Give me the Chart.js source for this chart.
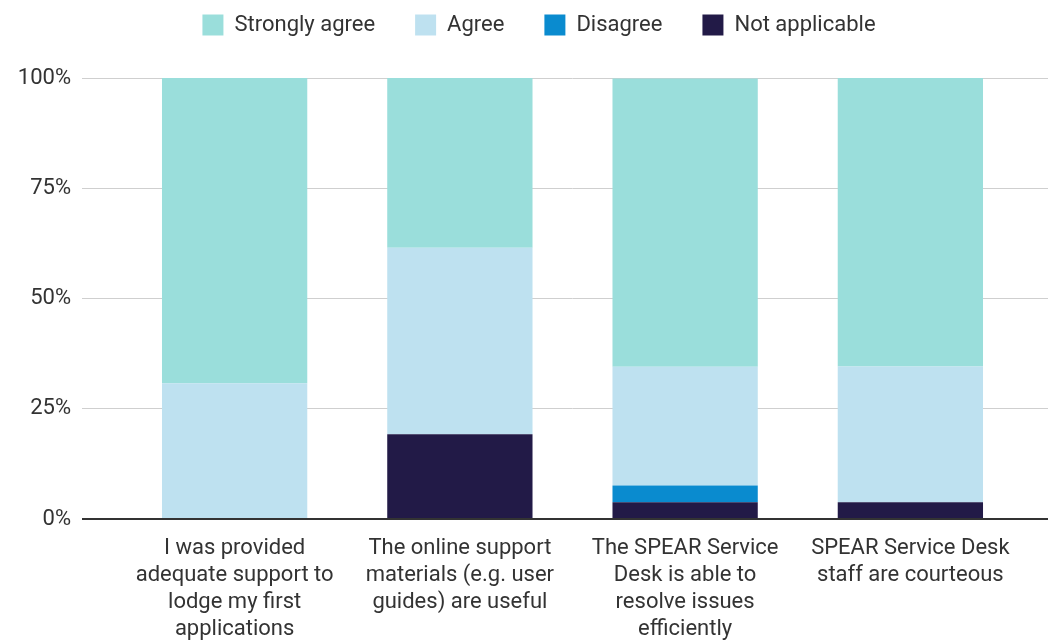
<!DOCTYPE html>
<html>
<head>
<meta charset="utf-8">
<script src="https://cdn.jsdelivr.net/npm/chart.js@4"></script>
<style>
  html, body { margin: 0; padding: 0; background: #fff; }
  #wrap { width: 1048px; height: 642px; position: relative; }
</style>
</head>
<body>
<div id="wrap"><canvas id="c"></canvas></div>
<script>
// survey statements
const CATS = [
    ['I was provided', 'adequate support to', 'lodge my first', 'applications'],
    ['The online support', 'materials (e.g. user', 'guides) are useful'],
    ['The SPEAR Service', 'Desk is able to', 'resolve issues', 'efficiently'],
    ['SPEAR Service Desk', 'staff are courteous']
];

// share of respondents, %
const NOT_APPLICABLE = [0, 19.2, 3.8, 3.8];
const DISAGREE = [0, 0, 3.8, 0];
const AGREE = [30.8, 42.3, 26.9, 30.8];
const STRONGLY_AGREE = [69.2, 38.5, 65.4, 65.4];

const Y_TICKS = [0, 25, 50, 75, 100];

const FONT = { family: 'Roboto, "Noto Sans", sans-serif', size: 22 };
const TXT = '#333';

const gridColor = c => (c.tick && c.tick.value === 0) ? '#333' : '#cfcfcf';
const gridWidth = c => (c.tick && c.tick.value === 0) ? 2 : 1;

function ds(label, data, color) {
    return {
        label: label,
        data: data,
        backgroundColor: color,
        borderWidth: 0,
        categoryPercentage: 1,
        barPercentage: 0.645
    };
}

// legend: fixed height, nudged right/up
const legendTweak = {
    id: 'legendTweak',
    beforeInit(chart) {
        const lg = chart.legend;
        const fit = lg.fit;
        lg.fit = function () {
            fit.bind(lg)();
            this.height = 78;
        };
        const draw = lg.draw;
        lg.draw = function () {
            const ctx = this.ctx;
            ctx.save();
            ctx.translate(15, -26);
            draw.bind(lg)();
            ctx.restore();
        };
    }
};

new Chart(document.getElementById('c'), {
    type: 'bar',
    data: {
        labels: CATS,
        datasets: [
            ds('Not applicable', NOT_APPLICABLE, '#221a47'),
            ds('Disagree', DISAGREE, '#0a8bcf'),
            ds('Agree', AGREE, '#bee1f0'),
            ds('Strongly agree', STRONGLY_AGREE, '#9adedb')
        ]
    },
    options: {
        responsive: true,
        maintainAspectRatio: false,
        animation: false,
        layout: { padding: 0 },
        plugins: {
            tooltip: { enabled: false },
            legend: {
                position: 'top',
                reverse: true,
                labels: {
                    color: TXT,
                    font: FONT,
                    boxWidth: 21,
                    boxHeight: 21,
                    padding: 40
                }
            }
        },
        scales: {
            x: {
                stacked: true,
                grid: { display: false },
                border: { display: true, color: '#333', width: 2, z: 1 },
                ticks: {
                    color: TXT,
                    font: { ...FONT, lineHeight: 1.23 },
                    padding: 8,
                    maxRotation: 0,
                    autoSkip: false
                },
                afterFit(s) { s.height = 123; }
            },
            y: {
                stacked: true,
                min: 0,
                max: 100,
                afterBuildTicks(s) { s.ticks = Y_TICKS.map(v => ({ value: v })); },
                border: { display: false },
                grid: { color: gridColor, lineWidth: gridWidth, tickLength: 40 },
                ticks: {
                    color: TXT,
                    font: FONT,
                    padding: 11,
                    callback: v => v + '%'
                },
                afterFit(s) { s.width = 122; }
            },
            y2: {
                position: 'right',
                min: 0,
                max: 100,
                afterBuildTicks(s) { s.ticks = Y_TICKS.map(v => ({ value: v })); },
                border: { display: false },
                grid: { color: gridColor, lineWidth: gridWidth, tickLength: 25, drawOnChartArea: false },
                ticks: { display: false },
                afterFit(s) { s.width = 25; }
            }
        }
    },
    plugins: [legendTweak]
});
</script>
</body>
</html>
